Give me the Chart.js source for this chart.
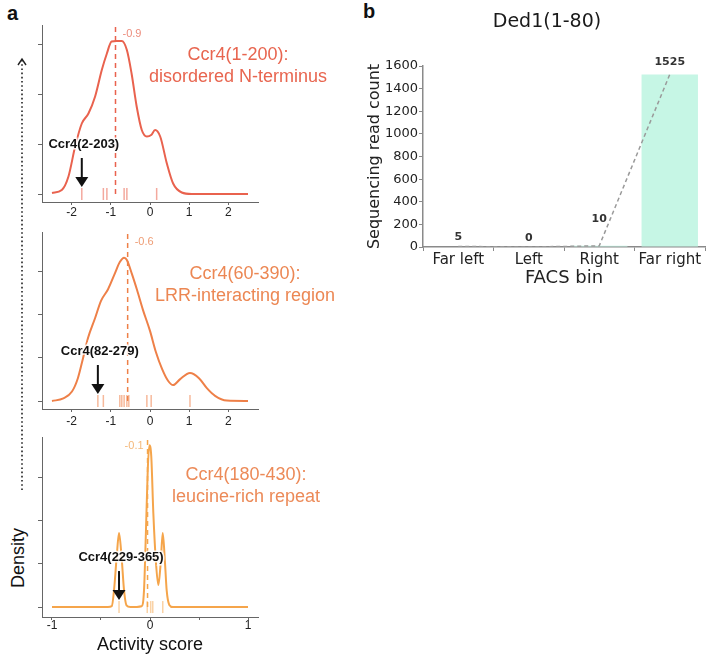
<!DOCTYPE html>
<html>
<head>
<meta charset="utf-8">
<title>Ccr4 activity densities / Ded1 FACS bins</title>
<script src="https://cdn.jsdelivr.net/npm/chart.js@4.4.1/dist/chart.umd.min.js"></script>
<style>
  html, body { margin: 0; padding: 0; background: #fff; }
  #fig { position: relative; width: 707px; height: 657px; overflow: hidden;
         font-family: "Liberation Sans", Arial, sans-serif; color: #111; }
  #fig canvas { position: absolute; }
  .tag { position: absolute; font-weight: bold; font-size: 20px; line-height: 1; }
  #density { position: absolute; left: 18px; top: 558px; font-size: 18px; white-space: nowrap;
             transform: translate(-50%, -50%) rotate(-90deg); }
</style>
</head>
<body>
<div id="fig">
  <div class="tag" style="left:7px;top:3px">a</div>
  <div class="tag" style="left:363px;top:1px">b</div>
  <svg width="30" height="500" style="position:absolute;left:7px;top:50px">
    <line x1="15" y1="10" x2="15" y2="440" stroke="#222" stroke-width="1.6" stroke-dasharray="1.6 2.6"/>
    <polyline points="11,15 15,9 19,15" fill="none" stroke="#222" stroke-width="1.4"/>
  </svg>
  <div id="density">Density</div>
  <canvas id="full" width="345" height="230" style="left:0;top:0"></canvas>
  <canvas id="lrr" width="345" height="230" style="left:0;top:205px"></canvas>
  <canvas id="leu" width="345" height="247" style="left:0;top:410px"></canvas>
  <canvas id="facs" width="367" height="300" style="left:340px;top:0"></canvas>
</div>
<script>
////////////////////////////////////////////// panel a data
// density traces (activity score -> density)
const fullScore   = [-2.5, -2.25, -2.08, -1.91, -1.74, -1.57, -1.40, -1.23, -1.10, -0.98, -0.85, -0.72, -0.59,
                     -0.47, -0.34, -0.21, -0.08, 0.03, 0.13, 0.26, 0.43, 0.59, 0.81, 1.06, 2.5];
const fullDensity = [0.002, 0.008, 0.035, 0.095, 0.141, 0.161, 0.195, 0.248, 0.281, 0.305, 0.306, 0.306, 0.288,
                     0.241, 0.175, 0.128, 0.115, 0.118, 0.128, 0.115, 0.061, 0.021, 0.003, 0, 0];

const lrrScore    = [-2.5, -2.21, -1.99, -1.84, -1.71, -1.58, -1.40, -1.25, -1.07, -0.89, -0.77, -0.66, -0.59, -0.46,
                     -0.33, -0.18, 0, 0.15, 0.31, 0.46, 0.59, 0.77, 1.02, 1.25, 1.45, 1.66, 1.96, 2.5];
const lrrDensity  = [0, 0.006, 0.022, 0.053, 0.099, 0.147, 0.193, 0.233, 0.260, 0.298, 0.323, 0.333, 0.328, 0.295,
                     0.258, 0.212, 0.163, 0.114, 0.074, 0.047, 0.037, 0.051, 0.065, 0.053, 0.030, 0.012, 0.001, 0];

const leuScore    = [-1.0, -0.43, -0.39, -0.367, -0.34, -0.316, -0.29, -0.265, -0.24, -0.2, -0.085, -0.061, -0.041,
                     -0.023, -0.007, 0.013, 0.034, 0.061, 0.085, 0.109, 0.13, 0.153, 0.17, 0.197, 0.235, 1.0];
const leuDensity  = [0, 0, 0.002, 0.039, 0.116, 0.171, 0.116, 0.039, 0.004, 0, 0.002, 0.039, 0.178,
                     0.316, 0.374, 0.348, 0.217, 0.102, 0.051, 0.102, 0.171, 0.102, 0.039, 0.005, 0, 0];

// rug marks (single fragments)
const fullRug = [-1.74, -1.19, -1.10, -0.66, -0.59, 0.17];
const lrrRug  = [-1.33, -1.19, -0.77, -0.72, -0.66, -0.59, -0.54, -0.08, 0.03, 1.02];
const leuRug  = [-0.316, -0.028, 0.007, 0.028, 0.13];

const medianAt     = [-0.88, -0.57, -0.025];
const medianLabels = ['-0.9', '-0.6', '-0.1'];
const fragments    = ['Ccr4(2-203)', 'Ccr4(82-279)', 'Ccr4(229-365)'];
const fragmentAt   = [-1.74, -1.33, -0.316];
const regionNames  = [['Ccr4(1-200):', 'disordered N-terminus'],
                      ['Ccr4(60-390):', 'LRR-interacting region'],
                      ['Ccr4(180-430):', 'leucine-rich repeat']];
const wideTicks    = [-2, -1, 0, 1, 2];
const narrowTicks  = [-1, -0.5, 0, 0.5, 1];
const densityTicks = [0, 0.1, 0.2, 0.3];

////////////////////////////////////////////// panel b data
const facsBins   = ['Far left', 'Left', 'Right', 'Far right'];
const readCounts = [5, 0, 10, 1525];
const countTicks = [0, 200, 400, 600, 800, 1000, 1200, 1400, 1600];

const SANS = '"Liberation Sans", Arial, sans-serif';
const DEJA = '"DejaVu Sans", sans-serif';
Chart.defaults.font.family = SANS;

// region title, median value, arrow + fragment name
const densityDecor = {
  id: 'densityDecor',
  afterDatasetsDraw(chart, args, o) {
    const {ctx, chartArea, scales: {x, y}} = chart;
    const base = y.getPixelForValue(0);
    ctx.save();
    ctx.textBaseline = 'middle';

    ctx.font = '18px ' + SANS;
    ctx.fillStyle = o.titleColor;
    ctx.textAlign = 'center';
    o.title.forEach((t, i) => ctx.fillText(t, o.titleX, o.titleY + i * 22));

    ctx.font = '11px ' + SANS;
    ctx.fillStyle = o.medianColor;
    const mx = x.getPixelForValue(o.median);
    ctx.textAlign = o.medianShift < 0 ? 'right' : 'left';
    ctx.fillText(o.medianText, mx + o.medianShift, chartArea.top + o.medianDrop);

    // arrow pointing at the highlighted fragment
    const ax = x.getPixelForValue(o.fragmentAt);
    ctx.strokeStyle = '#111';
    ctx.fillStyle = '#111';
    ctx.lineWidth = 2;
    ctx.beginPath();
    ctx.moveTo(ax, base - 36);
    ctx.lineTo(ax, base - 14);
    ctx.stroke();
    ctx.beginPath();
    ctx.moveTo(ax - 6.5, base - 17);
    ctx.lineTo(ax + 6.5, base - 17);
    ctx.lineTo(ax, base - 7);
    ctx.closePath();
    ctx.fill();

    ctx.font = 'bold 13px ' + SANS;
    ctx.textAlign = 'center';
    ctx.lineWidth = 3;
    ctx.strokeStyle = 'rgba(255,255,255,0.85)';
    ctx.strokeText(o.fragment, ax + 2, base - 50);
    ctx.fillStyle = '#111';
    ctx.fillText(o.fragment, ax + 2, base - 50);
    ctx.restore();
  }
};

function densityChart(id, c) {
  return new Chart(document.getElementById(id), {
    type: 'scatter',
    data: {
      datasets: [
        { data: c.xs.map((v, i) => ({x: v, y: c.ys[i]})), showLine: true, borderColor: c.color,
          borderWidth: 2, pointRadius: 0, cubicInterpolationMode: 'monotone' },
        { data: [{x: c.median, y: 0}, {x: c.median, y: c.yMax}], showLine: true, borderColor: c.color,
          borderWidth: 1.5, borderDash: [5, 4], pointRadius: 0 },
        { data: c.rug.map(v => ({x: v, y: 0})), showLine: false, pointStyle: 'line', pointRotation: 90,
          pointRadius: 6, pointBorderColor: c.rugColor, pointBorderWidth: 1.5, clip: false }
      ]
    },
    options: {
      responsive: false,
      animation: false,
      events: [],
      layout: { padding: { top: c.padTop, right: c.padRight } },
      plugins: {
        legend: { display: false },
        tooltip: { enabled: false },
        densityDecor: c.decor
      },
      scales: {
        x: {
          type: 'linear', min: c.xMin, max: c.xMax,
          afterBuildTicks: s => { s.ticks = c.xTicks.map(v => ({value: v})); },
          afterFit: s => { s.height = c.xAxisH; },
          grid: { drawOnChartArea: false, tickLength: 3, color: '#666' },
          border: { color: '#666', width: 1 },
          ticks: { font: { size: 12 }, color: '#222', padding: c.tickPad, maxRotation: 0,
                   callback: v => Number.isInteger(v) ? String(v) : '' },
          title: { display: !!c.xTitle, text: c.xTitle, font: { size: 18 }, color: '#111',
                   padding: { top: 0, bottom: 1 } }
        },
        y: {
          min: c.yMin, max: c.yMax,
          afterBuildTicks: s => { s.ticks = densityTicks.map(v => ({value: v})); },
          afterFit: s => { s.width = 42; },
          grid: { drawOnChartArea: false, tickLength: 4, color: '#666' },
          border: { color: '#666', width: 1 },
          ticks: { display: false }
        }
      }
    },
    plugins: [densityDecor]
  });
}

densityChart('full', {
  xs: fullScore, ys: fullDensity, rug: fullRug, median: medianAt[0],
  color: '#e9624e', rugColor: 'rgba(233,98,78,0.55)',
  xMin: -2.755, xMax: 2.755, xTicks: wideTicks, yMin: -0.016, yMax: 0.338,
  padTop: 25, padRight: 87, xAxisH: 28, tickPad: 0,
  decor: { title: regionNames[0], titleX: 238, titleY: 55, titleColor: '#e8654f',
           median: medianAt[0], medianText: medianLabels[0], medianShift: 7, medianDrop: 9,
           medianColor: '#ec8c7c', fragment: fragments[0], fragmentAt: fragmentAt[0] }
});

densityChart('lrr', {
  xs: lrrScore, ys: lrrDensity, rug: lrrRug, median: medianAt[1],
  color: '#ee8048', rugColor: 'rgba(238,128,72,0.55)',
  xMin: -2.755, xMax: 2.755, xTicks: wideTicks, yMin: -0.0186, yMax: 0.393,
  padTop: 27, padRight: 87, xAxisH: 26, tickPad: 2,
  decor: { title: regionNames[1], titleX: 245, titleY: 69, titleColor: '#ec8753',
           median: medianAt[1], medianText: medianLabels[1], medianShift: 7, medianDrop: 10,
           medianColor: '#ee9c74', fragment: fragments[1], fragmentAt: fragmentAt[1] }
});

densityChart('leu', {
  xs: leuScore, ys: leuDensity, rug: leuRug, median: medianAt[2],
  color: '#f5a54b', rugColor: 'rgba(245,165,75,0.5)',
  xMin: -1.102, xMax: 1.102, xTicks: narrowTicks, yMin: -0.023, yMax: 0.393,
  padTop: 27, padRight: 87, xAxisH: 40, tickPad: -2, xTitle: 'Activity score',
  decor: { title: regionNames[2], titleX: 246, titleY: 65, titleColor: '#ec8a58',
           median: medianAt[2], medianText: medianLabels[2], medianShift: -4, medianDrop: 9,
           medianColor: '#f4b87a', fragment: fragments[2], fragmentAt: fragmentAt[2] }
});

////////////////////////////////////////////// panel b
const countLabels = {
  id: 'countLabels',
  afterDatasetsDraw(chart, args, o) {
    const {ctx} = chart;
    const pts = chart.getDatasetMeta(0).data;
    ctx.save();
    ctx.textAlign = 'center';
    ctx.textBaseline = 'middle';
    ctx.font = 'bold 11px ' + DEJA;
    ctx.fillStyle = '#333';
    readCounts.forEach((v, i) => ctx.fillText(String(v), pts[i].x, pts[i].y - o.lift[i]));
    ctx.font = '19px ' + DEJA;
    ctx.fillStyle = '#1a1a1a';
    ctx.fillText(o.title, o.titleX, o.titleY);
    ctx.restore();
  }
};

new Chart(document.getElementById('facs'), {
  type: 'bar',
  data: {
    labels: facsBins,
    datasets: [
      { type: 'line', data: readCounts, borderColor: '#9a9a9a', borderWidth: 1.5, borderDash: [4, 3],
        pointRadius: 0, order: 0 },
      { type: 'bar', data: readCounts, backgroundColor: '#c6f6e5', barPercentage: 0.8,
        categoryPercentage: 1, order: 1 }
    ]
  },
  options: {
    responsive: false,
    animation: false,
    events: [],
    layout: { padding: { top: 66, right: 2 } },
    plugins: {
      legend: { display: false },
      tooltip: { enabled: false },
      countLabels: { lift: [9, 9, 27, 12], title: 'Ded1(1-80)', titleX: 207, titleY: 22 }
    },
    scales: {
      x: {
        afterFit: s => { s.height = 53; },
        grid: { drawOnChartArea: false, tickLength: 4, color: '#8a8a8a' },
        border: { color: '#8a8a8a', width: 1.5 },
        ticks: { font: { family: DEJA, size: 15 }, color: '#222', padding: 0 },
        title: { display: true, text: 'FACS bin', font: { family: DEJA, size: 18 }, color: '#222',
                 padding: { top: 0, bottom: 11 } }
      },
      y: {
        min: 0, max: 1600,
        afterBuildTicks: s => { s.ticks = countTicks.map(v => ({value: v})); },
        afterFit: s => { s.width = 83; },
        grid: { drawOnChartArea: false, tickLength: 4, color: '#8a8a8a' },
        border: { color: '#8a8a8a', width: 1.5 },
        ticks: { font: { family: DEJA, size: 13 }, color: '#222', padding: 1, callback: v => String(v) },
        title: { display: true, text: 'Sequencing read count', font: { family: DEJA, size: 16 }, color: '#222',
                 padding: { top: 25, bottom: 0 } }
      }
    }
  },
  plugins: [countLabels]
});
</script>
</body>
</html>
